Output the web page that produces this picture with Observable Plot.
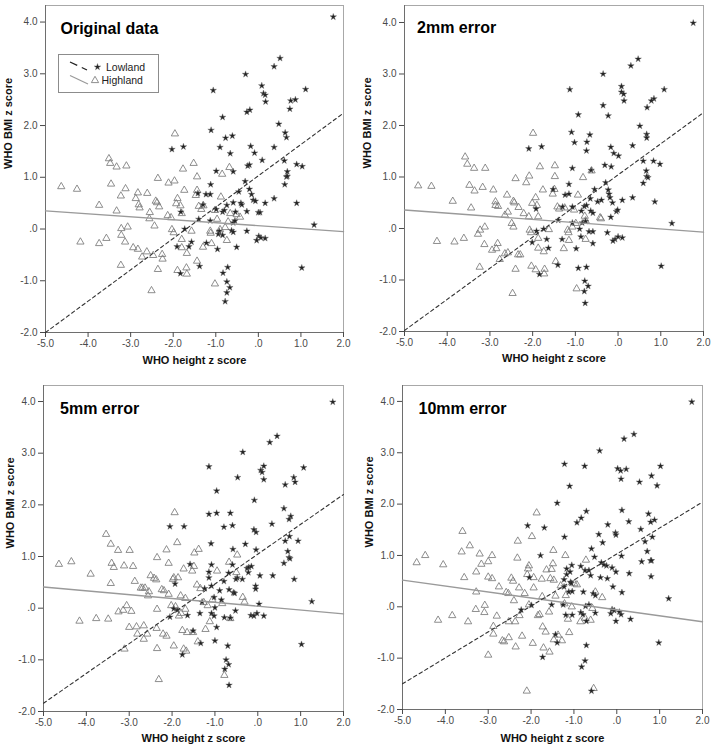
<!DOCTYPE html>
<html><head><meta charset="utf-8">
<script src="https://cdn.jsdelivr.net/npm/d3@7"></script>
<script src="https://cdn.jsdelivr.net/npm/@observablehq/plot@0.6"></script>
<style>
body{margin:0;background:#fff;}
#page{position:relative;width:711px;height:748px;overflow:hidden;font-family:"Liberation Sans",Arial,sans-serif;}
.panel{position:absolute;}
</style></head><body><div id="page"></div>
<script>
// ---- data (WHO height z score, WHO BMI z score) ----
const panelTitles = ["Original data", "2mm error", "5mm error", "10mm error"];
const xTicks = [-5, -4, -3, -2, -1, 0, 1, 2];
const yTicks = [-2, -1, 0, 1, 2, 3, 4];
const xLabel = "WHO height z score";
const yLabel = "WHO BMI z score";
const seriesNames = ["Lowland", "Highland"];

const origLowland = [[1.76,4.1],[0.51,3.30],[0.37,3.14],[-0.30,2.99],[-1.06,2.68],[1.11,2.70],[0.08,2.77],[0.12,2.62],[0.16,2.59],[0.87,2.50],[0.76,2.48],[0.17,2.46],[0.74,2.32],[-0.20,2.30],[-0.27,2.26],[-0.84,2.16],[0.48,2.03],[-1.11,1.91],[0.63,1.86],[0.66,1.77],[-0.61,1.80],[-0.77,1.76],[-1.76,1.59],[-2.03,1.54],[-0.90,1.58],[-0.18,1.60],[0.37,1.58],[-0.66,1.46],[-0.09,1.47],[0.09,1.33],[0.61,1.32],[-0.99,1.12],[-0.59,1.11],[-0.25,1.22],[-0.21,1.24],[0.90,1.25],[1.03,1.21],[0.68,1.11],[0.66,1.01],[0.68,1.02],[0.62,0.86],[-0.31,0.92],[-1.12,0.86],[-0.21,0.77],[-0.46,0.72],[-1.42,0.69],[-1.23,0.67],[-1.13,0.67],[-0.16,0.67],[-1.30,0.47],[0.16,0.50],[0.37,0.59],[0.90,0.50],[-0.41,0.50],[-0.39,0.47],[-0.12,0.56],[-0.07,0.54],[-0.59,0.51],[-0.74,0.46],[-0.27,0.34],[-0.54,0.33],[-0.84,0.33],[-0.99,0.38],[-0.80,0.36],[0.00,0.32],[0.04,0.32],[-1.82,0.33],[-1.40,0.19],[-0.59,0.12],[-0.55,0.16],[-1.13,0.16],[-0.63,-0.03],[-0.59,-0.06],[-0.92,-0.04],[-1.73,0.00],[1.31,0.08],[-0.27,-0.04],[-0.84,-0.12],[-0.94,-0.10],[0.01,-0.14],[0.06,-0.17],[0.16,-0.18],[-0.04,-0.22],[-1.57,-0.25],[-1.22,-0.27],[-1.91,-0.34],[-1.63,-0.34],[-0.51,-0.35],[-0.96,-0.39],[-1.38,-0.72],[-0.72,-0.74],[1.02,-0.75],[-0.83,-0.85],[-1.83,-0.86],[-0.74,-1.02],[-0.67,-1.13],[-0.74,-1.23],[-0.78,-1.40]];
const origHighland = [[-4.63,0.82],[-4.26,0.77],[-4.18,-0.25],[-3.74,0.46],[-3.74,-0.28],[-3.51,1.36],[-3.48,1.27],[-3.33,1.20],[-3.10,1.22],[-3.46,0.87],[-3.12,0.78],[-3.23,0.64],[-3.33,0.35],[-3.57,-0.18],[-3.22,0.01],[-3.07,0.04],[-3.22,-0.12],[-3.13,-0.25],[-3.23,-0.70],[-2.94,-0.36],[-2.88,0.59],[-2.83,0.70],[-2.81,0.47],[-2.79,0.41],[-2.83,-0.39],[-2.61,0.69],[-2.55,0.32],[-2.56,0.20],[-2.73,-0.54],[-2.62,-0.44],[-2.47,-0.51],[-2.51,-1.19],[-2.44,0.06],[-2.41,0.54],[-2.38,0.51],[-2.36,0.98],[-2.33,0.43],[-2.36,-0.78],[-2.26,-0.49],[-2.25,-0.58],[-2.13,0.26],[-2.11,0.89],[-2.05,0.22],[-1.97,0.93],[-1.96,1.84],[-2.03,-0.01],[-1.99,-0.07],[-1.90,0.59],[-1.93,0.49],[-1.83,0.45],[-1.77,1.16],[-1.80,0.30],[-1.80,-0.20],[-1.74,0.75],[-1.90,-0.80],[-1.69,-0.75],[-1.68,-0.87],[-1.68,-0.47],[-1.80,-0.36],[-1.57,-0.04],[-1.52,1.27],[-1.44,1.01],[-1.47,0.65],[-1.44,0.75],[-1.40,0.44],[-1.34,0.38],[-1.30,-0.35],[-1.44,-0.62],[-1.13,-0.04],[-1.12,-0.08],[-1.10,-0.28],[-1.02,-1.06],[-1.02,0.36],[-0.97,0.19],[-0.88,0.62],[-0.85,1.06],[-0.68,1.19],[-0.66,0.30],[-0.74,-0.22],[-0.71,0.14],[-0.51,0.28],[-0.43,0.23],[-1.29,0.45],[-0.90,-0.01],[-0.78,0.03]];

const mm2Lowland = [[1.76,3.99],[0.47,3.29],[0.30,3.16],[-0.35,3.00],[-1.13,2.70],[0.08,2.76],[0.08,2.65],[0.13,2.61],[1.08,2.70],[0.84,2.52],[0.78,2.48],[0.14,2.48],[0.68,2.35],[-0.35,2.39],[-0.23,2.19],[-0.93,2.21],[0.51,1.99],[-1.09,1.87],[0.67,1.83],[0.67,1.76],[-0.66,1.82],[-0.73,1.68],[-1.02,1.67],[-2.09,1.55],[-1.79,1.59],[0.34,1.61],[-0.17,1.58],[-0.74,1.51],[-0.10,1.46],[0.01,1.41],[0.59,1.31],[0.83,1.31],[0.98,1.25],[-0.31,1.23],[-0.16,1.20],[-1.07,1.17],[-0.63,1.13],[0.66,1.12],[0.67,1.01],[0.70,0.99],[0.59,0.88],[-0.29,0.89],[-1.15,0.86],[-1.52,0.76],[-0.55,0.76],[-0.23,0.75],[-1.24,0.65],[-1.15,0.67],[-0.21,0.67],[-0.19,0.60],[-0.13,0.50],[0.10,0.55],[0.34,0.60],[0.86,0.52],[-0.48,0.52],[-0.39,0.55],[-0.65,0.58],[-0.79,0.43],[-0.74,0.45],[-1.07,0.42],[-1.30,0.42],[-1.92,0.38],[-0.64,0.34],[-0.59,0.30],[-0.86,0.34],[-0.04,0.33],[-0.01,0.36],[-0.17,0.22],[-1.40,0.16],[-1.07,0.11],[-0.84,0.11],[-0.76,0.14],[1.26,0.10],[-0.90,-0.01],[-1.74,-0.01],[-1.91,-0.05],[-0.68,-0.06],[-0.59,-0.06],[-0.25,-0.08],[-1.31,-0.21],[-1.67,-0.21],[-0.87,-0.16],[-0.07,-0.21],[0.00,-0.16],[0.10,-0.18],[-0.12,-0.24],[-2.01,-0.27],[-0.59,-0.29],[-0.98,-0.39],[-1.63,-0.38],[-1.41,-0.71],[-0.74,-0.75],[-0.93,-0.77],[1.01,-0.73],[-1.84,-0.89],[-0.78,-1.02],[-0.70,-1.12],[-0.79,-1.22],[-0.77,-1.45]];
const mm2Highland = [[-4.68,0.83],[-4.37,0.82],[-4.24,-0.25],[-3.87,0.53],[-3.83,-0.26],[-3.58,1.39],[-3.53,1.25],[-3.37,1.17],[-3.11,1.17],[-3.48,0.84],[-3.36,0.73],[-3.17,0.80],[-3.44,0.40],[-3.61,-0.19],[-3.23,-0.03],[-3.12,0.03],[-3.28,-0.11],[-3.13,-0.31],[-3.24,-0.75],[-2.95,-0.42],[-2.92,0.75],[-2.87,0.52],[-2.87,0.45],[-2.81,0.43],[-2.85,-0.39],[-2.82,-0.29],[-2.60,0.65],[-2.58,0.32],[-2.65,0.26],[-2.77,-0.60],[-2.65,-0.49],[-2.58,-0.47],[-2.47,-1.26],[-2.49,0.10],[-2.45,0.03],[-2.45,0.53],[-2.43,0.50],[-2.40,0.97],[-2.33,0.41],[-2.40,-0.79],[-2.34,-0.51],[-2.29,-0.51],[-2.21,0.29],[-2.15,0.89],[-2.09,0.23],[-2.08,1.02],[-1.99,1.85],[-2.07,-0.03],[-2.04,-0.08],[-1.93,0.60],[-2.01,0.49],[-1.90,0.45],[-1.83,1.20],[-1.87,0.23],[-1.87,-0.19],[-1.76,0.75],[-2.03,-0.73],[-1.93,-0.80],[-1.72,-0.79],[-1.73,-0.88],[-1.74,-0.45],[-1.87,-0.38],[-1.62,-0.02],[-1.48,1.22],[-1.48,1.01],[-1.53,0.67],[-1.49,0.76],[-1.42,0.42],[-1.38,0.38],[-1.27,-0.39],[-1.46,-0.64],[-1.18,-0.03],[-1.16,-0.08],[-1.15,-0.23],[-0.97,-1.17],[-1.03,0.36],[-0.99,0.10],[-0.94,0.65],[-0.82,0.99],[-0.62,1.12],[-0.78,0.24],[-0.76,-0.21],[-0.76,0.15],[-0.42,0.21],[-0.40,0.19],[-1.07,0.03],[-1.25,0.40]];

const mm5Lowland = [[1.75,3.99],[0.45,3.33],[0.28,3.21],[-0.35,3.02],[-1.14,2.74],[0.14,2.75],[0.07,2.67],[0.10,2.63],[1.07,2.72],[-0.47,2.53],[0.84,2.53],[0.87,2.44],[0.14,2.49],[0.64,2.39],[-0.96,2.27],[-0.08,2.09],[0.61,1.93],[-1.14,1.82],[-0.96,1.84],[-0.64,1.84],[0.77,1.78],[0.73,1.72],[0.33,1.63],[-2.05,1.58],[-1.72,1.58],[-0.79,1.57],[-0.59,1.60],[-0.09,1.52],[-0.04,1.47],[0.74,1.39],[0.94,1.30],[0.64,1.30],[-1.09,1.25],[-0.29,1.24],[-0.58,1.14],[-0.04,1.13],[0.70,1.10],[0.73,0.98],[0.75,0.96],[0.61,0.87],[-1.58,0.85],[-1.08,0.84],[-0.59,0.84],[-0.25,0.77],[-0.21,0.79],[-0.15,0.81],[-1.14,0.70],[-0.68,0.68],[-0.22,0.69],[0.05,0.63],[0.35,0.63],[0.85,0.56],[-1.14,0.59],[-0.48,0.59],[-0.51,0.56],[-0.79,0.52],[-1.08,0.43],[-0.36,0.56],[-0.05,0.43],[-0.05,0.37],[-0.57,0.30],[-0.54,0.29],[-0.67,0.36],[-0.89,0.34],[-1.24,0.38],[-1.93,0.47],[-1.02,0.21],[-0.85,0.16],[-1.30,0.12],[-1.00,0.01],[1.26,0.13],[0.03,0.08],[-1.96,-0.01],[-1.88,-0.04],[-2.05,-0.17],[-1.64,-0.14],[-1.35,-0.10],[-1.08,-0.10],[-1.02,-0.15],[-0.78,-0.18],[-0.52,-0.05],[-0.64,-0.19],[-0.16,-0.14],[-0.09,-0.15],[-0.02,-0.10],[0.14,-0.15],[-1.51,-0.44],[-0.96,-0.37],[-1.00,-0.63],[-1.33,-0.68],[-0.70,-0.73],[1.02,-0.70],[-1.76,-0.90],[-0.74,-1.00],[-0.68,-1.09],[-0.77,-1.18],[-0.67,-1.49]];
const mm5Highland = [[-4.64,0.85],[-4.35,0.90],[-4.16,-0.25],[-3.90,0.66],[-3.77,-0.20],[-3.49,-0.21],[-3.54,1.43],[-3.43,1.24],[-3.41,0.87],[-3.36,0.79],[-3.26,1.12],[-3.12,0.82],[-2.99,1.12],[-2.91,0.81],[-3.43,0.48],[-2.87,0.52],[-3.06,0.05],[-3.14,-0.04],[-3.25,-0.07],[-2.95,-0.06],[-3.00,-0.37],[-3.11,-0.79],[-2.83,-0.36],[-2.81,-0.50],[-2.73,0.39],[-2.69,0.39],[-2.63,0.39],[-2.54,0.32],[-2.56,0.24],[-2.50,0.63],[-2.42,0.58],[-2.37,0.55],[-2.35,0.98],[-2.66,-0.34],[-2.66,-0.60],[-2.58,-0.50],[-2.35,-0.02],[-2.36,-0.39],[-2.35,-0.78],[-2.31,-1.38],[-2.24,0.36],[-2.19,0.34],[-2.21,-0.50],[-2.13,-0.54],[-2.13,1.13],[-2.08,0.87],[-2.08,0.27],[-1.98,0.56],[-1.94,1.85],[-1.96,0.59],[-1.88,1.27],[-1.86,0.59],[-1.80,0.24],[-2.02,0.05],[-1.92,0.03],[-1.84,-0.15],[-1.79,-0.10],[-1.96,-0.73],[-1.76,-0.43],[-1.73,-0.79],[-1.67,-0.83],[-1.69,-0.02],[-1.69,0.19],[-1.73,0.76],[-1.53,0.72],[-1.49,0.81],[-1.48,1.07],[-1.38,1.14],[-1.42,0.45],[-1.34,0.38],[-1.65,-0.47],[-1.51,-0.47],[-1.40,-0.65],[-1.26,0.11],[-1.17,0.05],[-1.12,-0.26],[-1.22,-0.41],[-1.06,0.16],[-0.95,0.72],[-0.78,-1.30],[-0.83,0.09],[-0.67,0.89],[-0.48,1.03],[-0.50,0.69],[-0.35,0.21],[-0.31,0.12],[-0.64,-0.20]];

const mm10Lowland = [[1.75,3.99],[0.40,3.36],[0.17,3.27],[-0.40,3.04],[-1.22,2.78],[-0.75,2.74],[1.02,2.74],[0.02,2.69],[0.09,2.65],[0.22,2.68],[0.81,2.55],[0.10,2.49],[0.53,2.43],[0.94,2.36],[-1.10,2.35],[-1.39,2.02],[-0.71,1.86],[0.12,1.88],[0.74,1.81],[-0.83,1.73],[-0.93,1.64],[0.28,1.66],[0.88,1.69],[0.79,1.65],[-2.08,1.58],[-1.69,1.54],[-0.21,1.60],[0.56,1.51],[-0.03,1.44],[-0.02,1.40],[-0.42,1.41],[-1.22,1.36],[0.83,1.36],[0.66,1.27],[-0.33,1.25],[-0.59,1.13],[0.71,1.08],[0.11,0.99],[-1.78,1.00],[-0.52,0.97],[0.79,0.90],[0.81,0.90],[0.58,0.88],[-0.36,0.86],[-0.24,0.80],[-0.30,0.82],[-0.11,0.76],[-1.05,0.81],[-0.84,0.79],[-0.74,0.71],[-0.65,0.71],[-0.02,0.68],[0.29,0.65],[0.80,0.59],[-1.17,0.74],[-1.09,0.68],[-1.17,0.63],[-2.04,0.57],[-0.38,0.57],[-0.22,0.55],[-1.23,0.53],[-1.08,0.48],[-1.06,0.46],[-0.61,0.61],[-1.23,0.39],[-0.09,0.39],[-1.12,0.29],[-1.04,0.30],[-0.78,0.29],[-0.55,0.26],[-0.50,0.22],[0.12,0.28],[-1.25,0.04],[-1.52,0.04],[-1.99,0.03],[-2.23,-0.06],[-0.73,0.01],[-0.65,0.04],[1.21,0.16],[-0.11,-0.05],[-0.06,-0.07],[0.06,-0.10],[-0.14,-0.13],[0.10,-0.15],[-1.19,-0.16],[-1.04,-0.16],[-0.50,-0.12],[-0.84,-0.11],[-0.79,-0.15],[0.32,-0.24],[-0.02,-0.28],[-0.71,-0.28],[-1.43,-0.54],[-1.39,-0.70],[-0.71,-0.75],[0.98,-0.70],[-1.73,-0.98],[-0.74,-1.05],[-0.82,-1.17],[-0.59,-1.64]];
const mm10Highland = [[-4.67,0.86],[-4.47,1.00],[-4.05,0.82],[-4.17,-0.26],[-3.84,-0.17],[-3.60,1.47],[-3.62,1.07],[-3.56,0.57],[-3.43,1.19],[-3.47,-0.29],[-3.28,0.29],[-3.28,0.68],[-3.20,1.03],[-3.16,0.83],[-3.29,-0.05],[-3.09,-0.11],[-3.08,0.03],[-3.00,-0.94],[-3.00,0.88],[-2.91,1.00],[-3.00,0.58],[-2.91,0.55],[-2.80,-0.18],[-2.88,-0.38],[-2.88,-0.53],[-2.75,0.39],[-2.67,-0.66],[-2.63,-0.68],[-2.58,0.28],[-2.53,0.26],[-2.52,-0.29],[-2.52,-0.60],[-2.46,0.56],[-2.42,0.50],[-2.40,0.12],[-2.37,-0.29],[-2.36,-0.78],[-2.32,0.95],[-2.31,1.28],[-2.28,0.37],[-2.27,-0.17],[-2.21,-0.57],[-2.15,0.26],[-2.09,0.63],[-2.05,0.80],[-2.07,0.74],[-2.05,0.04],[-2.10,-1.64],[-1.98,1.37],[-1.94,0.57],[-1.94,0.37],[-1.96,-0.71],[-1.87,1.83],[-1.84,-0.17],[-1.80,-0.15],[-1.75,0.54],[-1.74,0.20],[-1.73,-0.39],[-1.71,-0.80],[-1.66,-0.49],[-1.64,0.72],[-1.58,-0.10],[-1.57,-0.88],[-1.55,0.55],[-1.52,0.73],[-1.48,1.10],[-1.49,0.84],[-1.47,0.52],[-1.43,0.21],[-1.47,-0.64],[-1.37,-0.55],[-1.28,-0.66],[-1.31,0.41],[-1.20,1.00],[-1.19,0.22],[-1.22,0.06],[-1.14,-0.24],[-1.11,-0.50],[-0.99,0.45],[-0.93,0.43],[-1.05,0.00],[-0.85,-0.29],[-0.74,-0.22],[-0.72,0.91],[-0.54,-1.59],[-0.50,0.29],[-0.34,0.18],[-0.57,-0.03],[-0.61,-0.26]];

// regression lines: fitted values at x = -5 and x = 2
const fitX = [-5, 2];
const lowlandFitY = [[-2.00, 2.24], [-1.98, 2.25], [-1.84, 2.20], [-1.50, 2.04]];
const highlandFitY = [[0.35, -0.05], [0.36, -0.07], [0.41, -0.11], [0.52, -0.29]];

const lowlandSets = [origLowland, mm2Lowland, mm5Lowland, mm10Lowland];
const highlandSets = [origHighland, mm2Highland, mm5Highland, mm10Highland];

// ---- layout ----
const layouts = [
  {left: 0,   top: 0,   width: 355, height: 374, ml: 45, mr: 12, mt: 5,  mb: 42, ymax: 4.32, tdx: 15, tbase: 28, ydx: -37, xbase: 31},
  {left: 355, top: 0,   width: 356, height: 374, ml: 49, mr: 8,  mt: 5,  mb: 43, ymax: 4.33, tdx: 12.5, tbase: 27, ydx: -37, xbase: 30},
  {left: 0,   top: 374, width: 355, height: 374, ml: 43, mr: 12, mt: 11, mb: 37, ymax: 4.31, tdx: 16.5, tbase: 28, ydx: -33, xbase: 30},
  {left: 355, top: 374, width: 356, height: 374, ml: 47, mr: 9,  mt: 11, mb: 39, ymax: 4.31, tdx: 16, tbase: 28, ydx: -33, xbase: 32}
];

const fmt = d => d === 0 ? ".0" : d.toFixed(1);
const FONT = '"Liberation Sans", Arial, Helvetica, sans-serif';
const STAR_R = 2.05, TRI_R = 2.7;
const page = document.getElementById("page");

layouts.forEach((L, i) => {
  const fitLow = fitX.map((x, k) => ({x, y: lowlandFitY[i][k]}));
  const fitHigh = fitX.map((x, k) => ({x, y: highlandFitY[i][k]}));
  const chart = Plot.plot({
    width: L.width,
    height: L.height,
    marginLeft: L.ml, marginRight: L.mr, marginTop: L.mt, marginBottom: L.mb,
    style: {fontFamily: FONT, fontSize: "10px", background: "#fff", color: "#333", overflow: "visible"},
    x: {domain: [-5, 2]},
    y: {domain: [-2, L.ymax]},
    marks: [
      Plot.frame({stroke: "#a8a8a8", strokeWidth: 1}),
      Plot.ruleX([-5], {stroke: "#6e6e6e", strokeWidth: 1}),
      Plot.ruleY([-2], {stroke: "#6e6e6e", strokeWidth: 1}),
      Plot.axisX({ticks: xTicks, tickFormat: fmt, tickSize: 5, tickPadding: 2, label: null, color: "#4a4a4a", fontSize: 10}),
      Plot.axisY({ticks: yTicks, tickFormat: fmt, tickSize: 5, tickPadding: 3, label: null, color: "#4a4a4a", fontSize: 10}),
      Plot.dot(highlandSets[i], {x: d => d[0], y: d => d[1], symbol: "triangle", r: TRI_R, fill: "none", stroke: "#7a7a7a", strokeWidth: 0.85}),
      Plot.dot(lowlandSets[i], {x: d => d[0], y: d => d[1], symbol: "star", r: STAR_R, fill: "#222", stroke: "#666", strokeWidth: 0.4}),
      Plot.line(fitHigh, {x: "x", y: "y", stroke: "#9a9a9a", strokeWidth: 1.4}),
      Plot.line(fitLow, {x: "x", y: "y", stroke: "#333", strokeWidth: 1.1, strokeDasharray: "3.5,3"}),
      Plot.text([panelTitles[i]], {text: d => d, frameAnchor: "top-left", textAnchor: "start", lineAnchor: "top", dx: L.tdx, dy: L.tbase - 0.71 * 16, fontSize: 16, fontWeight: "bold", fill: "#000"}),
      Plot.text([xLabel], {text: d => d, frameAnchor: "bottom", lineAnchor: "top", dy: L.xbase - 0.71 * 11, fontSize: 11, fontWeight: "bold", fill: "#111"}),
      Plot.text([yLabel], {text: d => d, frameAnchor: "left", rotate: -90, lineAnchor: "middle", dx: L.ydx, fontSize: 11, fontWeight: "bold", fill: "#111"})
    ]
  });
  const wrap = document.createElement("div");
  wrap.className = "panel";
  wrap.style.left = L.left + "px";
  wrap.style.top = L.top + "px";
  wrap.appendChild(chart);
  page.appendChild(wrap);

  if (i === 0) {
    // legend box (panel 1 only)
    const svg = d3.select(chart);
    const g = svg.append("g").attr("font-family", FONT).attr("font-size", 10.5).attr("text-anchor", "start");
    g.append("rect").attr("x", 58.5).attr("y", 54.5).attr("width", 100).attr("height", 38)
      .attr("fill", "#fff").attr("stroke", "#8c8c8c").attr("stroke-width", 1);
    g.append("line").attr("x1", 70).attr("y1", 62).attr("x2", 87).attr("y2", 70)
      .attr("stroke", "#222").attr("stroke-width", 1.3).attr("stroke-dasharray", "8,5");
    g.append("path").attr("transform", "translate(97.5,67)")
      .attr("d", d3.symbol(d3.symbolStar, STAR_R * STAR_R * Math.PI)()).attr("fill", "#222")
      .attr("stroke", "#666").attr("stroke-width", 0.4);
    g.append("text").attr("x", 106).attr("y", 70.5).attr("fill", "#222").text(seriesNames[0]);
    g.append("line").attr("x1", 70).attr("y1", 75.5).attr("x2", 88).attr("y2", 84)
      .attr("stroke", "#999").attr("stroke-width", 1.2);
    g.append("path").attr("transform", "translate(95,80.5)")
      .attr("d", d3.symbol(d3.symbolTriangle, TRI_R * TRI_R * Math.PI)()).attr("fill", "none")
      .attr("stroke", "#7a7a7a").attr("stroke-width", 0.85);
    g.append("text").attr("x", 101.5).attr("y", 83.5).attr("fill", "#222").text(seriesNames[1]);
  }
});
</script>
</body></html>
